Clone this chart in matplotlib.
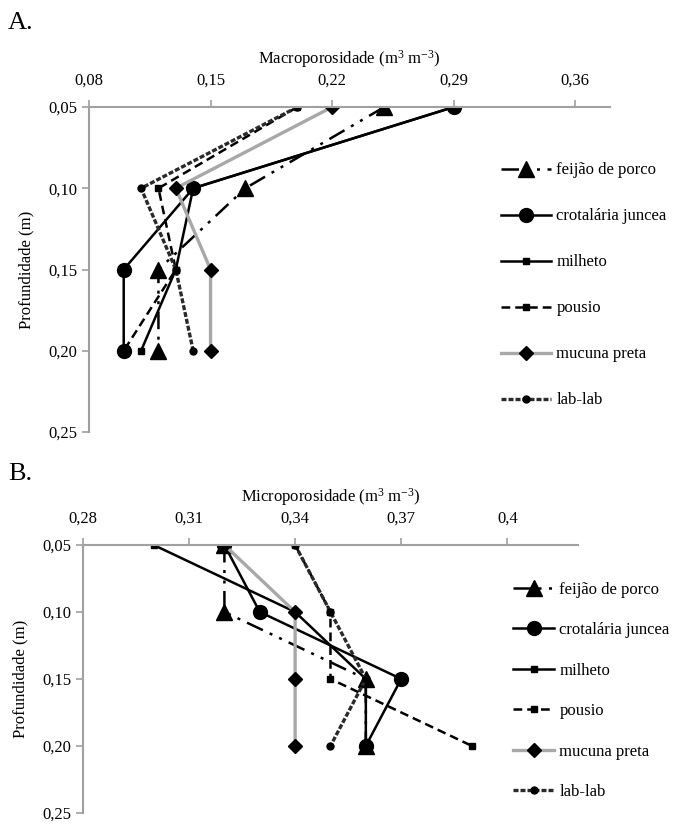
import matplotlib.pyplot as plt

plt.rcParams['font.family'] = ['Liberation Serif', 'DejaVu Serif']
plt.rcParams['mathtext.fontset'] = 'custom'
plt.rcParams['mathtext.rm'] = 'Liberation Serif'
plt.rcParams['mathtext.default'] = 'regular'

# profundidade (m)
depth = [0.05, 0.10, 0.15, 0.20]
series = ['feijão de porco', 'crotalária juncea', 'milheto', 'pousio', 'mucuna preta', 'lab-lab']

# A. macroporosidade
macro_feijao = [0.25, 0.17, 0.12, 0.12]
macro_crotalaria = [0.29, 0.14, 0.10, 0.10]
macro_milheto = [0.29, 0.14, 0.13, 0.11]
macro_pousio = [0.20, 0.12, 0.13, 0.10]
macro_mucuna = [0.22, 0.13, 0.15, 0.15]
macro_lablab = [0.20, 0.11, 0.13, 0.14]

# B. microporosidade
micro_feijao = [0.32, 0.32, 0.36, 0.36]
micro_crotalaria = [0.32, 0.33, 0.37, 0.36]
micro_milheto = [0.30, 0.34, 0.36, 0.36]
micro_pousio = [0.34, 0.35, 0.35, 0.39]
micro_mucuna = [0.32, 0.34, 0.34, 0.34]
micro_lablab = [0.34, 0.35, 0.36, 0.35]

macro_ticks = [0.08, 0.15, 0.22, 0.29, 0.36]
micro_ticks = [0.28, 0.31, 0.34, 0.37, 0.40]
depth_ticks = [0.05, 0.10, 0.15, 0.20, 0.25]

# estilos de cada tratamento (linha, marcador)
styles = [
    dict(color='black', lw=1.8, dashes=(7, 3, 1.2, 3, 1.2, 3), marker='^', ms=11),
    dict(color='black', lw=1.8, ls='-', marker='o', ms=10),
    dict(color='black', lw=1.8, ls='-', marker='s', ms=5),
    dict(color='black', lw=1.8, dashes=(3.5, 2), marker='s', ms=4.5),
    dict(color='#a8a8a8', lw=2.4, ls='-', marker='D', ms=7, mfc='black', mec='black'),
    dict(color='#2a2a2a', lw=2.4, dashes=(1.5, 0.6), marker='o', ms=5, mfc='black', mec='black'),
]

axis_gray = '#a0a0a0'


def fmt(v, keep2=True):
    s = f'{v:.2f}'
    if not keep2:
        s = s.rstrip('0')
    return s.replace('.', ',')


def draw(ax, data, xticks, xlim, xlabel):
    for vals, name, st in zip(data, series, styles):
        st = dict(st)
        if 'mfc' not in st:
            st['mfc'] = st['color']
            st['mec'] = st['color']
        ax.plot(vals, depth, label=name, **st)
    ax.set_xlim(*xlim)
    ax.set_ylim(0.25, 0.05)
    ax.xaxis.tick_top()
    ax.xaxis.set_label_position('top')
    ax.set_xticks(xticks)
    ax.set_xticklabels([fmt(v, False) for v in xticks])
    ax.set_yticks(depth_ticks)
    ax.set_yticklabels([fmt(v) for v in depth_ticks])
    ax.set_xlabel(xlabel, fontsize=12, labelpad=7)
    ax.set_ylabel('Profundidade (m)', fontsize=12, labelpad=10)
    for s in ['right', 'bottom']:
        ax.spines[s].set_visible(False)
    for s in ['top', 'left']:
        ax.spines[s].set_color(axis_gray)
        ax.spines[s].set_linewidth(1.5)
    ax.tick_params(colors=axis_gray, labelcolor='black', labelsize=12,
                   direction='out', length=5, width=1.2)
    ax.tick_params(axis='x', pad=8)


fig = plt.figure(figsize=(6.73, 8.24), dpi=100)

axA = fig.add_axes([0.1322, 0.4757, 0.7742, 0.3944])
draw(axA, [macro_feijao, macro_crotalaria, macro_milheto, macro_pousio, macro_mucuna, macro_lablab],
     macro_ticks, (0.08, 0.38), 'Macroporosidade (m$^{3}$ m$^{-3}$)')
axA.legend(loc='upper left', bbox_to_anchor=(0.735, 0.811), bbox_transform=fig.transFigure,
           frameon=False, fontsize=12, handlelength=3.0, handletextpad=0.3,
           labelspacing=1.8, borderaxespad=0)

axB = fig.add_axes([0.1233, 0.0135, 0.7355, 0.3251])
draw(axB, [micro_feijao, micro_crotalaria, micro_milheto, micro_pousio, micro_mucuna, micro_lablab],
     micro_ticks, (0.28, 0.42), 'Microporosidade (m$^{3}$ m$^{-3}$)')
axB.legend(loc='upper left', bbox_to_anchor=(0.752, 0.302), bbox_transform=fig.transFigure,
           frameon=False, fontsize=12, handlelength=2.5, handletextpad=0.3,
           labelspacing=1.47, borderaxespad=0)

fig.text(0.012, 0.965, 'A.', fontsize=19)
fig.text(0.012, 0.418, 'B.', fontsize=19)

fig.savefig('out.png', dpi=100)
